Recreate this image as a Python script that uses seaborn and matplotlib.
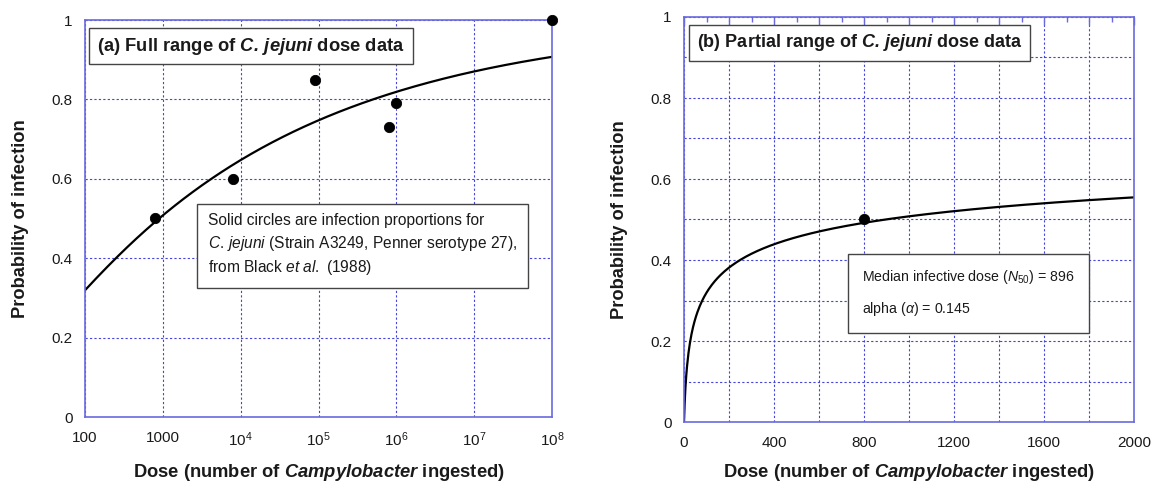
import numpy as np
import pandas as pd
import matplotlib
matplotlib.use("Agg")
import matplotlib.pyplot as plt
import seaborn as sns
from matplotlib.ticker import FixedLocator, NullFormatter, FuncFormatter

# ---------------- data ----------------
dose_obs = [800, 8000, 9e4, 8e5, 1e6, 1e8]
prob_obs = [0.50, 0.60, 0.85, 0.73, 0.79, 1.00]
dose_obs_b = [800]
prob_obs_b = [0.50]

# beta-Poisson model parameters stated on the chart
N50 = 896
alpha = 0.145

left_xticks = [1e2, 1e3, 1e4, 1e5, 1e6, 1e7, 1e8]
left_xlabels = ["100", "1000", r"$10^4$", r"$10^5$", r"$10^6$", r"$10^7$", r"$10^8$"]
yticks = [0, 0.2, 0.4, 0.6, 0.8, 1.0]
ylabels = ["0", "0.2", "0.4", "0.6", "0.8", "1"]
right_xticks = [0, 400, 800, 1200, 1600, 2000]


def beta_poisson(d):
    d = np.asarray(d, dtype=float)
    return 1 - (1 + d / N50 * (2 ** (1 / alpha) - 1)) ** (-alpha)


# ---------------- style ----------------
sns.set_theme(style="white")
plt.rcParams["font.family"] = ["Liberation Sans", "DejaVu Sans"]
plt.rcParams["mathtext.fontset"] = "custom"
plt.rcParams["mathtext.rm"] = "Liberation Sans"
plt.rcParams["mathtext.it"] = "Liberation Sans:italic"
plt.rcParams["mathtext.bf"] = "Liberation Sans:bold"
plt.rcParams["mathtext.bfit"] = "Liberation Sans:bold:italic"
plt.rcParams["mathtext.sf"] = "Liberation Sans"

SPINE = "#6a6ae0"
GRID = "#4444dd"
BOXEDGE = "#444444"
TXT = "#1a1a1a"

W, H = 1153, 486
fig = plt.figure(figsize=(W / 100, H / 100), dpi=100)
ax1 = fig.add_axes([85 / W, 1 - 417 / H, (552 - 85) / W, (417 - 20) / H])
ax2 = fig.add_axes([684 / W, 1 - 422 / H, (1134 - 684) / W, (422 - 17) / H])

# ---------------- panel (a) ----------------
xa = np.logspace(2, 8, 400)
df_a = pd.DataFrame({"dose": xa, "p": beta_poisson(xa)})
obs_a = pd.DataFrame({"dose": dose_obs, "p": prob_obs})
sns.lineplot(data=df_a, x="dose", y="p", ax=ax1, color="black", lw=1.6)
sns.scatterplot(data=obs_a, x="dose", y="p", ax=ax1, color="black", s=55,
                edgecolor="black", zorder=5, clip_on=False)
ax1.set_xscale("log")
ax1.set_xlim(1e2, 1e8)
ax1.set_ylim(0, 1)
ax1.xaxis.set_major_locator(FixedLocator(left_xticks))
ax1.set_xticklabels(left_xlabels)
ax1.xaxis.set_minor_formatter(NullFormatter())
ax1.xaxis.set_minor_locator(FixedLocator([]))
ax1.set_yticks(yticks)
ax1.set_yticklabels(ylabels)

# ---------------- panel (b) ----------------
xb = np.concatenate([np.linspace(0, 10, 200), np.linspace(10, 2000, 600)[1:]])
df_b = pd.DataFrame({"dose": xb, "p": beta_poisson(xb)})
obs_b = pd.DataFrame({"dose": dose_obs_b, "p": prob_obs_b})
sns.lineplot(data=df_b, x="dose", y="p", ax=ax2, color="black", lw=1.6)
sns.scatterplot(data=obs_b, x="dose", y="p", ax=ax2, color="black", s=55,
                edgecolor="black", zorder=5)
ax2.set_xlim(0, 2000)
ax2.set_ylim(0, 1)
ax2.xaxis.set_major_locator(FixedLocator(np.arange(0, 2001, 200)))
ax2.xaxis.set_major_formatter(
    FuncFormatter(lambda v, p: f"{v:.0f}" if round(v) in right_xticks else ""))
ax2.xaxis.set_minor_locator(FixedLocator(np.arange(100, 2000, 200)))
ax2.set_yticks(yticks)
ax2.set_yticklabels(ylabels)
ax2.yaxis.set_minor_locator(FixedLocator(np.arange(0.1, 1.0, 0.2)))

for ax in (ax1, ax2):
    for s in ax.spines.values():
        s.set_color(SPINE)
        s.set_linewidth(1.2)
    ax.grid(True, which="major", color=GRID, linestyle=(0, (2, 2)), lw=0.8)
    ax.set_axisbelow(True)
    ax.tick_params(axis="both", which="both", labelsize=11, colors=SPINE,
                   labelcolor=TXT, direction="in", top=True)
    ax.tick_params(axis="x", which="major", length=6, width=1, pad=10)
    ax.tick_params(axis="x", which="minor", length=3.5, width=1)
    ax.tick_params(axis="y", which="both", length=0, pad=9, left=False, right=False)
    ax.set_ylabel("Probability of infection", fontsize=13.2, fontweight="bold",
                  labelpad=16, color=TXT)
    ax.set_xlabel(r"Dose (number of $\mathbfit{Campylobacter}$ ingested)",
                  fontsize=13.2, fontweight="bold", labelpad=9, color=TXT)

ax2.grid(True, which="minor", axis="y", color=GRID, linestyle=(0, (2, 2)), lw=0.8)
ax1.tick_params(axis="x", which="major", top=False, length=5)

# ---------------- annotations ----------------
ax1.text(0.026, 0.934, r"(a) Full range of $\mathbfit{C.\,jejuni}$ dose data",
         transform=ax1.transAxes, fontsize=13.2, fontweight="bold", va="center",
         ha="left", color=TXT,
         bbox=dict(boxstyle="square,pad=0.42", facecolor="white",
                   edgecolor=BOXEDGE, lw=1.0), zorder=6)
ax2.text(0.029, 0.936, r"(b) Partial range of $\mathbfit{C.\,jejuni}$ dose data",
         transform=ax2.transAxes, fontsize=13.0, fontweight="bold", va="center",
         ha="left", color=TXT,
         bbox=dict(boxstyle="square,pad=0.42", facecolor="white",
                   edgecolor=BOXEDGE, lw=1.0), zorder=6)

ax1.text(0.263, 0.433,
         "Solid circles are infection proportions for\n"
         r"$\mathit{C.\,jejuni}$ (Strain A3249, Penner serotype 27),"
         "\n"
         r"from Black $\mathit{et\ al.}$ (1988)",
         transform=ax1.transAxes, fontsize=11.2, va="center", ha="left",
         linespacing=1.4, color=TXT,
         bbox=dict(boxstyle="square,pad=0.7", facecolor="white",
                   edgecolor=BOXEDGE, lw=1.0), zorder=6)

ax2.text(0.396, 0.318,
         r"Median infective dose ($N_{50}$) = 896"
         "\n"
         r"alpha ($\alpha$) = 0.145",
         transform=ax2.transAxes, fontsize=10.2, va="center", ha="left",
         linespacing=2.1, color=TXT,
         bbox=dict(boxstyle="square,pad=1.0", facecolor="white",
                   edgecolor=BOXEDGE, lw=1.0), zorder=6)

fig.savefig("out.png", dpi=100)
